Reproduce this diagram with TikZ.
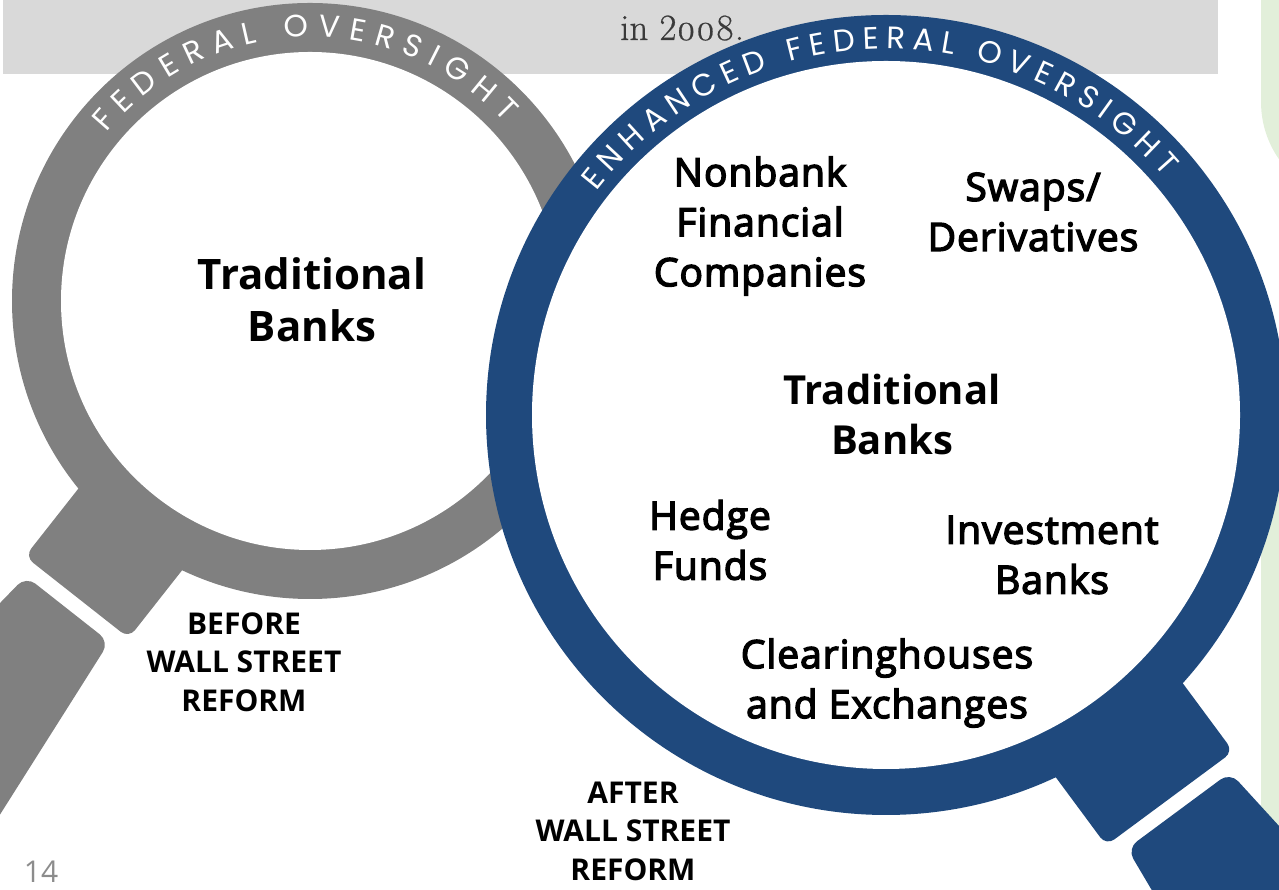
\documentclass[tikz,border=0pt]{standalone}
\usepackage{fontspec}
\setmainfont{Open Sans}
\newfontfamily\semi[FakeBold=3.6, LetterSpace=2.5]{Open Sans}
\newfontfamily\ringfont{Poppins}
\newfontfamily\serifnum[FakeBold=0.6]{Latin Modern Roman}
\usetikzlibrary{decorations.text}
\definecolor{navy}{HTML}{1F497D}
\definecolor{greyc}{HTML}{808080}
\definecolor{barc}{HTML}{D9D9D9}
\definecolor{greenc}{HTML}{E2EFDA}
\definecolor{numc}{HTML}{8C8C8C}
\definecolor{txtc}{HTML}{3A3A3A}
\tikzset{
  biglbl/.style={inner sep=0pt, align=center, font=\semi\fontsize{39}{50}\selectfont},
  boldlbl/.style={inner sep=0pt, align=center, font=\bfseries\fontsize{42}{52}\selectfont},
  eralbl/.style={inner sep=0pt, align=center, font=\bfseries\fontsize{30}{38.5}\selectfont},
  ringtext/.style={decorate, decoration={text along path, text align=fit to path, text color=white}}
}
\begin{document}
\begin{tikzpicture}[x=1pt,y=1pt]
\useasboundingbox (0,0) rectangle (1279,890);
\clip (0,0) rectangle (1279,890);
% background bar and side panels
\fill[barc] (3,816) rectangle (1218,890);
\fill[greenc, rounded corners=100pt] (1261,688) rectangle (1420,1000);
\fill[greenc] (1261,-50) rectangle (1420,470);
\node[anchor=base west, inner sep=0pt, text=txtc, font=\serifnum\fontsize{37}{40}\selectfont] (intext) at (620,850) {in 2\oldstylenums{008}.};
% grey magnifier
\begin{scope}[shift={(310,589)}, rotate=231.8]
  \fill[greyc, rounded corners=10pt] (260,-66) -- (377,-66) -- (377,66) -- (260,66) -- cycle;
  \fill[greyc, rounded corners=12pt] (392,-53) -- (392,53) -- (760,91) -- (760,-91) -- cycle;
\end{scope}
\fill[greyc] (310,589) circle[radius=298pt];
\fill[white] (310,589) circle[radius=249pt];
\path[ringtext, decoration={text={|\ringfont\fontsize{31}{31}\selectfont|FEDERAL OVERSIGHT}}]
  (310,589) ++(140.5:264) arc[start angle=140.5, end angle=42.5, radius=264pt];
% blue magnifier
\begin{scope}[shift={(886,475)}, rotate=-53.5]
  \fill[navy, rounded corners=10pt] (340,-79) -- (477,-79) -- (477,79) -- (340,79) -- cycle;
  \fill[navy, rounded corners=12pt] (492,-64) -- (492,64) -- (840,100) -- (840,-100) -- cycle;
\end{scope}
\fill[navy] (886,475) circle[radius=400pt];
\fill[white] (886,475) circle[radius=354pt];
\path[ringtext, decoration={text={|\ringfont\fontsize{31}{31}\selectfont|ENHANCED FEDERAL OVERSIGHT}}]
  (886,475) ++(142.3:366) arc[start angle=142.3, end angle=40.5, radius=366pt];
% labels
\node[boldlbl] (tb1) at (312,590) {Traditional\\Banks};
\node[biglbl] (nbf) at (760,664) {Nonbank\\Financial\\Companies};
\node[biglbl] (swd) at (1033,678) {Swaps/\\Derivatives};
\node[boldlbl, font=\bfseries\fontsize{40}{50}\selectfont] (tb2) at (892,475) {Traditional\\Banks};
\node[biglbl] (hf) at (710,350) {Hedge\\Funds};
\node[biglbl] (ib) at (1052,335) {Investment\\Banks};
\node[biglbl] (ce) at (887,207) {Clearinghouses\\and Exchanges};
\node[eralbl] (before) at (244,228) {BEFORE\\WALL STREET\\REFORM};
\node[eralbl] (after) at (633,59) {AFTER\\WALL STREET\\REFORM};
\node[inner sep=0pt, text=numc, font=\fontsize{30}{34}\selectfont] (pg) at (41,18) {14};
\end{tikzpicture}
\end{document}
